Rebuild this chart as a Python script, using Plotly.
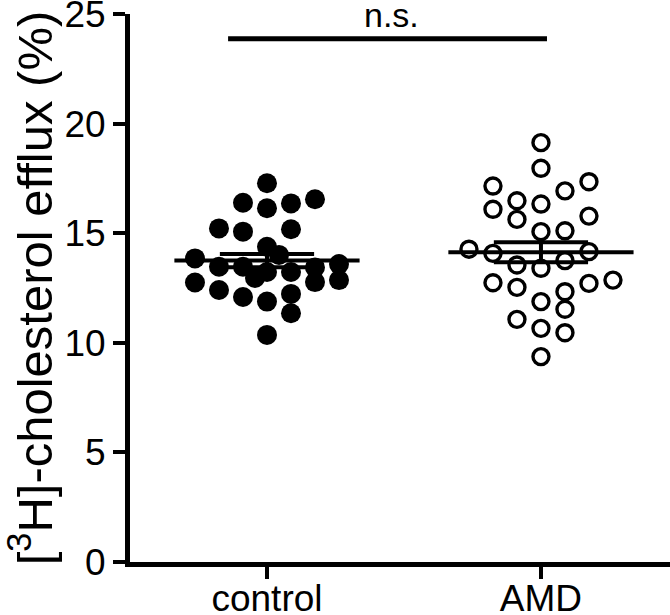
import plotly.graph_objects as go

# --- data ---------------------------------------------------------------
groups = ["control", "AMD"]

control_vals = [17.28, 16.39, 16.14, 16.36, 16.55, 15.22, 15.07, 15.18, 14.38,
                14.01, 13.85, 13.47, 13.47, 12.96, 13.23, 13.23, 13.44, 13.59,
                12.75, 12.77, 12.86, 12.41, 12.09, 11.88, 12.23, 11.35, 10.36]
# beeswarm column of each point (left/right of the group centre)
control_cols = [0, -1, 0, 1, 2, -2, -1, 1, 0,
                0.5, -3, -2, -1, -0.5, 0, 1, 2, 3,
                -3, 2, 3, -2, -1, 0, 1, 1, 0]

amd_vals = [19.13, 17.96, 17.15, 17.35, 16.93, 16.48, 16.33, 16.09, 15.63,
            15.78, 15.07, 15.11, 14.27, 14.08, 14.16, 13.55, 13.40, 13.75,
            12.74, 12.53, 12.71, 12.86, 11.88, 12.33, 11.53, 11.07, 10.66,
            10.46, 9.37]
amd_cols = [0, 0, -2, 2, 1, -1, 0, -2, -1,
            2, 0, 1, -3, -2, 2, -1, 0, 1,
            -2, -1, 2, 3, 0, 1, 1, -1, 0,
            1, 0]

means = [13.75, 14.13]
sems = [0.30, 0.46]

sig_y = 23.87
sig_x = [-0.142, 1.022]
sig_label = "n.s."

# --- styling ------------------------------------------------------------
FONT = "Liberation Sans, Arial, sans-serif"
COL_STEP = 0.0876     # spacing between beeswarm columns (x units)
MEAN_HW = 0.338       # half width of mean line
SEM_HW = 0.172        # half width of SEM caps

fig = go.Figure()

fig.add_trace(go.Scatter(
    x=[0 + c * COL_STEP for c in control_cols], y=control_vals,
    mode="markers",
    marker=dict(symbol="circle", size=20, color="black", line=dict(width=0)),
    showlegend=False, hoverinfo="y"))

fig.add_trace(go.Scatter(
    x=[1 + c * COL_STEP for c in amd_cols], y=amd_vals,
    mode="markers",
    marker=dict(symbol="circle-open", size=16, color="black", line=dict(width=3.4)),
    showlegend=False, hoverinfo="y"))

# mean +/- SEM
for i, (m, s) in enumerate(zip(means, sems)):
    xs = [i - MEAN_HW, i + MEAN_HW, None,
          i - SEM_HW, i + SEM_HW, None,
          i - SEM_HW, i + SEM_HW, None,
          i, i]
    ys = [m, m, None,
          m + s, m + s, None,
          m - s, m - s, None,
          m - s, m + s]
    fig.add_trace(go.Scatter(x=xs, y=ys, mode="lines",
                             line=dict(color="black", width=4),
                             showlegend=False, hoverinfo="skip"))

# significance bar
fig.add_trace(go.Scatter(x=sig_x, y=[sig_y, sig_y], mode="lines",
                         line=dict(color="black", width=5),
                         showlegend=False, hoverinfo="skip", cliponaxis=False))
fig.add_annotation(x=sum(sig_x) / 2 + 0.015, y=sig_y, yshift=3, text=sig_label,
                   showarrow=False, yanchor="bottom",
                   font=dict(family=FONT, size=34, color="black"))

fig.update_layout(
    width=670, height=615,
    margin=dict(l=130, r=0, t=14, b=53),
    paper_bgcolor="white", plot_bgcolor="white",
    font=dict(family=FONT, color="black"),
    xaxis=dict(
        range=[-0.5, 1.471],
        tickvals=[0, 1], ticktext=groups,
        showgrid=False, zeroline=False, automargin=False,
        showline=True, linecolor="black", linewidth=5,
        ticks="outside", ticklen=12, tickwidth=4, tickcolor="black",
        ticklabelstandoff=-12,
        tickfont=dict(family=FONT, size=37, color="black"),
    ),
    yaxis=dict(
        range=[0, 25],
        tickvals=[0, 5, 10, 15, 20, 25],
        showgrid=False, zeroline=False, automargin=False,
        ticklabeloverflow="allow",
        showline=True, linecolor="black", linewidth=5,
        ticks="outside", ticklen=12, tickwidth=4, tickcolor="black",
        tickfont=dict(family=FONT, size=37, color="black"),
        title=dict(text="[<sup>3</sup>H]-cholesterol efflux (%)",
                   font=dict(family=FONT, size=49, color="black"),
                   standoff=9),
    ),
)

# drop the default 8px body margin so the figure fills the window
fig.write_html("out.html", config={"displayModeBar": False},
               post_script="document.body.style.margin='0';")
